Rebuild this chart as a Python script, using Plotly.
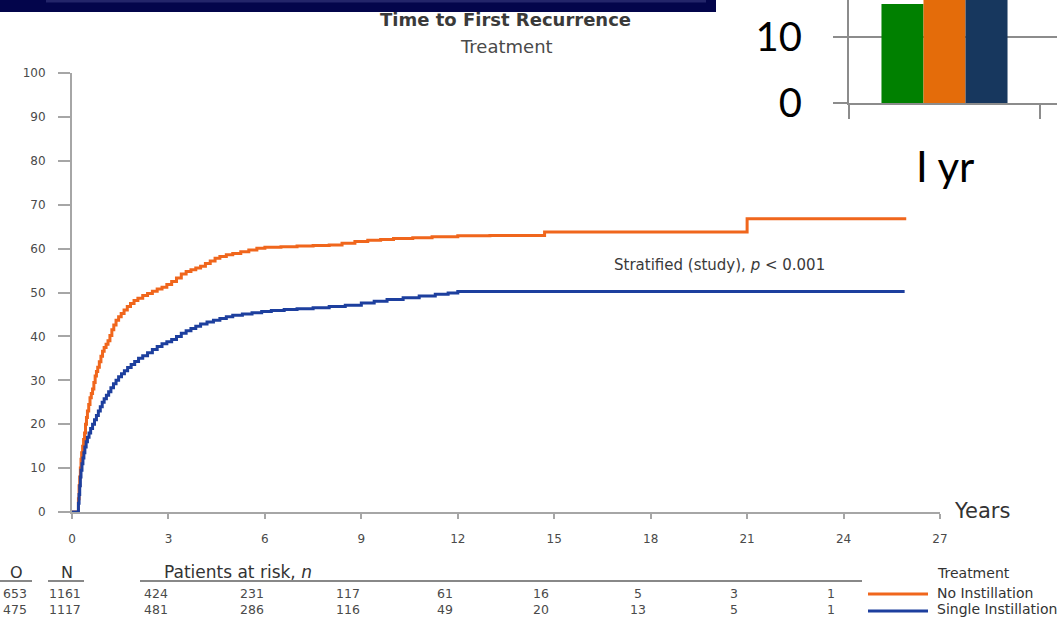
import plotly.graph_objects as go

W, H = 1057, 618

# Kaplan-Meier style cumulative recurrence (%), time in years
no_inst_t = [0.00, 0.18, 0.20, 0.22, 0.24, 0.26, 0.28, 0.30, 0.33, 0.36, 0.39, 0.42, 0.45, 0.48,
             0.52, 0.56, 0.60, 0.64, 0.68, 0.72, 0.76, 0.80, 0.85, 0.90, 0.95, 1.00, 1.06, 1.12,
             1.18, 1.24, 1.30, 1.37, 1.45, 1.53, 1.62, 1.72, 1.82, 1.93, 2.05, 2.20, 2.35, 2.50,
             2.65, 2.80, 2.95, 3.10, 3.25, 3.40, 3.55, 3.70, 3.85, 4.00, 4.15, 4.30, 4.45, 4.60,
             4.80, 5.00, 5.25, 5.50, 5.75, 6.00, 6.5, 7.0, 7.5, 8.0, 8.4, 8.8, 9.2, 9.6, 10.0,
             10.6, 11.2, 12.0, 13.0, 14.7, 21.0, 25.95]
no_inst_v = [0, 0, 3, 6, 8, 10, 12, 13.5, 15, 16.5, 18, 20, 21.5, 23,
             24.5, 26, 27, 28, 29.5, 31, 32, 33, 34.2, 35.5, 36.6, 37.5, 38.2, 39,
             40.2, 41.5, 42.6, 43.7, 44.5, 45.2, 46, 46.8, 47.5, 48.2, 48.7, 49.3, 49.8, 50.3,
             50.8, 51.2, 51.8, 52.5, 53.3, 54.2, 54.8, 55.2, 55.6, 56.0, 56.6, 57.2, 57.8, 58.2,
             58.6, 58.9, 59.3, 59.7, 60.1, 60.3, 60.4, 60.6, 60.7, 60.8, 61.2, 61.6, 61.9, 62.1, 62.3,
             62.5, 62.7, 62.9, 63.0, 63.8, 66.8, 66.8]

single_t = [0.00, 0.18, 0.20, 0.22, 0.24, 0.26, 0.28, 0.31, 0.34, 0.37, 0.40, 0.44, 0.48, 0.53,
            0.58, 0.64, 0.70, 0.76, 0.82, 0.88, 0.94, 1.00, 1.07, 1.14, 1.21, 1.29, 1.37, 1.45,
            1.54, 1.63, 1.73, 1.84, 1.95, 2.07, 2.20, 2.35, 2.50, 2.65, 2.80, 2.95, 3.10, 3.25,
            3.40, 3.55, 3.70, 3.85, 4.00, 4.20, 4.40, 4.60, 4.80, 5.00, 5.30, 5.60, 5.90, 6.20,
            6.60, 7.00, 7.50, 8.00, 8.50, 9.00, 9.40, 9.80, 10.3, 10.8, 11.3, 11.7, 12.0, 25.9]
single_v = [0, 0, 2, 4, 6, 8, 9.5, 11, 12.3, 13.5, 14.8, 16, 17, 18,
            19, 20, 21, 22, 23, 24, 25, 25.8, 26.6, 27.4, 28.3, 29.2, 30, 30.8,
            31.5, 32.2, 32.9, 33.6, 34.3, 35, 35.6, 36.3, 37, 37.7, 38.3, 38.8, 39.3, 40,
            40.7, 41.3, 41.8, 42.3, 42.8, 43.3, 43.7, 44.1, 44.5, 44.8, 45.1, 45.4, 45.7, 45.9,
            46.1, 46.3, 46.5, 46.8, 47.1, 47.6, 48.0, 48.4, 48.8, 49.2, 49.6, 49.9, 50.2, 50.2]

# Patients at risk table
risk_times = [3, 6, 9, 12, 15, 18, 21, 24]
risk_no_inst = [424, 231, 117, 61, 16, 5, 3, 1]
risk_single = [481, 286, 116, 49, 20, 13, 5, 1]
events = [653, 475]
totals = [1161, 1117]
group_names = ["No Instillation", "Single Instillation"]
group_colors = ["#f0661c", "#1d3f9e"]

# Inset bar chart
inset_category = ["I yr"]
inset_values = [15.0, 19.0, 21.0]
inset_colors = ["#008000", "#e46c0a", "#17375e"]


def px(x):
    return x / W


def py(y):
    return 1 - y / H


def label(text, x, y, size, color="#333333", family="DejaVu Sans", xanchor="center", xref="paper"):
    xx = px(x) if xref == "paper" else x
    return dict(text=text, x=xx, y=py(y), xref=xref, yref="paper", xanchor=xanchor,
                yanchor="middle", showarrow=False,
                font=dict(family=family, size=size, color=color))


fig = go.Figure()

for t, v, name, col in zip([no_inst_t, single_t], [no_inst_v, single_v], group_names, group_colors):
    fig.add_trace(go.Scatter(x=t, y=v, mode="lines", line=dict(color=col, width=3, shape="hv"),
                             name=name, showlegend=False, xaxis="x", yaxis="y"))

for val, col in zip(inset_values, inset_colors):
    fig.add_trace(go.Bar(x=[0], y=[val], marker=dict(color=col, line=dict(width=0)),
                         showlegend=False, xaxis="x2", yaxis="y2"))

axis_grey = "#a6a6a6"
tick_font = dict(family="DejaVu Sans", size=12, color="#4a4a4a")
inset_grey = "#8c8c8c"

fig.update_layout(
    width=W, height=H,
    margin=dict(l=0, r=0, t=0, b=0, autoexpand=False),
    paper_bgcolor="white", plot_bgcolor="rgba(0,0,0,0)",
    barmode="group", bargap=0.34, bargroupgap=0,
    xaxis=dict(domain=[px(72), px(940)], range=[0, 27], tickvals=list(range(0, 28, 3)),
               showline=True, linecolor=axis_grey, linewidth=2, ticks="outside", ticklen=5,
               tickcolor=axis_grey, tickwidth=1.5, showgrid=False, zeroline=False,
               tickfont=tick_font, ticklabelstandoff=10, layer="below traces", anchor="y",
               automargin=False),
    yaxis=dict(domain=[py(512), py(73)], range=[0, 100], tickvals=list(range(0, 101, 10)),
               showline=True, linecolor=axis_grey, linewidth=2, ticks="outside", ticklen=12,
               tickcolor=axis_grey, tickwidth=1.5, showgrid=False, zeroline=False,
               tickfont=tick_font, ticklabelstandoff=10, layer="below traces", anchor="x",
               automargin=False),
    xaxis2=dict(domain=[px(849), 1], range=[-0.5, 0.5 + 17 / 191], tickvals=[-0.5, 0.5],
                showticklabels=False, ticks="outside", ticklen=14, tickwidth=2, tickcolor=inset_grey,
                showline=True, linecolor=inset_grey, linewidth=2, showgrid=False, zeroline=False,
                anchor="y2", automargin=False),
    yaxis2=dict(domain=[py(103), 1], range=[0, 15.6], tickvals=[0, 10],
                showline=True, linecolor=inset_grey, linewidth=2, ticks="outside", ticklen=14,
                tickwidth=2, tickcolor=inset_grey, showgrid=True, gridcolor=inset_grey, gridwidth=2,
                zeroline=False, tickfont=dict(family="Lato", size=40, color="black"),
                ticklabelstandoff=23, anchor="x2", automargin=False),
)

shapes = []
# dark banner strip at the top
shapes.append(dict(type="rect", xref="paper", yref="paper", x0=0, x1=px(716), y0=py(12), y1=1,
                   fillcolor="#03054b", line=dict(width=0), layer="below"))
shapes.append(dict(type="rect", xref="paper", yref="paper", x0=px(46), x1=px(706), y0=py(2.5), y1=1,
                   fillcolor="#23256a", line=dict(width=0), layer="below"))

# table header underlines
for x0, x1 in [(0, 32), (48, 84), (140, 862)]:
    shapes.append(dict(type="line", xref="paper", yref="paper", x0=px(x0), x1=px(x1),
                       y0=py(581), y1=py(581), line=dict(color="#606060", width=1.5)))

# legend line keys
for row_y, col in zip([594, 611], group_colors):
    shapes.append(dict(type="line", xref="paper", yref="paper", x0=px(868), x1=px(928),
                       y0=py(row_y), y1=py(row_y), line=dict(color=col, width=3)))

fig.update_layout(shapes=shapes)

ann = []
ann.append(label("<b>Time to First Recurrence</b>", 505, 20, 18, "#3a3a3a"))
ann.append(label("Treatment", 506, 46, 18, "#4a4a4a"))
ann.append(label("Stratified (study), <i>p</i> < 0.001", 612, 265, 15, "#3a3a3a", xanchor="left"))
ann.append(label("Years", 952, 511, 21, xanchor="left"))

ann.append(label("O", 16, 572, 16))
ann.append(label("N", 67, 572, 16))
ann.append(label("Patients at risk, <i>n</i>", 162, 572, 17, xanchor="left"))

rows = [risk_no_inst, risk_single]
for i, row_y in enumerate([593, 609]):
    ann.append(label(str(events[i]), 15, row_y, 12.5, "#4a4a4a"))
    ann.append(label(str(totals[i]), 65, row_y, 12.5, "#4a4a4a"))
    for t, n in zip(risk_times, rows[i]):
        ann.append(label(str(n), t - 0.4, row_y, 12.5, "#4a4a4a", xref="x"))
    ann.append(label(group_names[i], 935, row_y, 14, xanchor="left"))
ann.append(label("Treatment", 935, 573, 14, xanchor="left"))

ann.append(dict(text=inset_category[0], x=0, y=py(166), xref="x2", yref="paper", showarrow=False,
                xanchor="center", yanchor="middle",
                font=dict(family="Lato", size=42, color="black")))

fig.update_layout(annotations=ann)

fig.write_html("out.html")
